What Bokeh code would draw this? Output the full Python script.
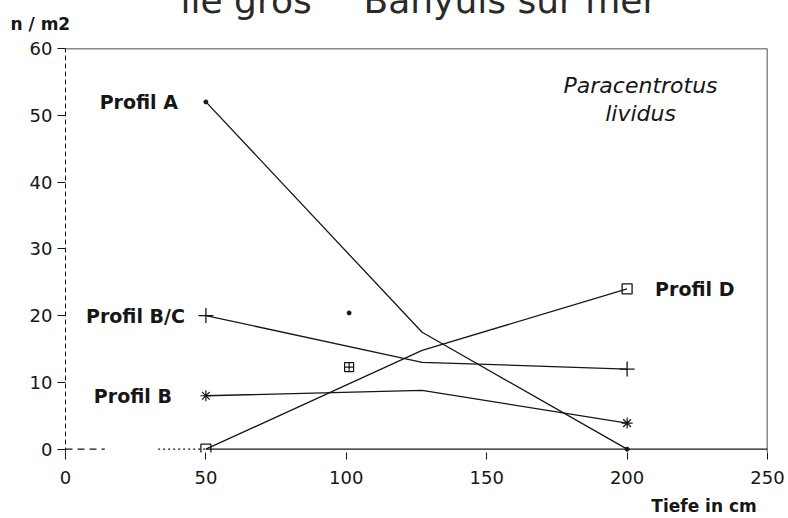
from bokeh.plotting import figure
from bokeh.models import Range1d, Span, Label, FixedTicker, Title, LinearAxis
from bokeh.core.properties import value
from bokeh.embed import file_html
from bokeh.resources import INLINE

# ---- data ----
depth = [50, 127, 200]               # Tiefe in cm
profil_a = [52, 17.5, 0]
profil_bc = [20, 13, 12]
profil_b = [8, 8.8, 3.9]
profil_d = [0, 14.8, 24]
stray_x = [101, 101]
stray_y = [20.4, 12.3]
x_ticks = [0, 50, 100, 150, 200, 250]
y_ticks = [0, 10, 20, 30, 40, 50, 60]
heading_parts = ["ile gros", "Banyuls sur mer"]

FONT = "DejaVu Sans"
INK = "#161616"

p = figure(width=788, height=518, x_range=Range1d(0, 250), y_range=Range1d(-0.5, 60),
           output_backend="svg", toolbar_location=None,
           min_border_left=65, min_border_right=21, min_border_top=48, min_border_bottom=66)
p.grid.visible = False
p.outline_line_color = None
p.background_fill_color = "white"
p.border_fill_color = "white"

# x axis
xa = p.xaxis[0]
xa.ticker = FixedTicker(ticks=x_ticks)
xa.axis_line_color = None
xa.major_tick_out = 7
xa.major_tick_in = 0
xa.major_tick_line_color = INK
xa.minor_tick_line_color = None
xa.major_label_standoff = 11
xa.major_label_text_font = FONT
xa.major_label_text_font_size = "18px"
xa.major_label_text_color = INK

# x axis title "Tiefe in cm" as a second, line-less axis
x_title_at = 227.4
xt = LinearAxis(ticker=FixedTicker(ticks=[x_title_at]),
                major_label_overrides={x_title_at: "Tiefe in cm"},
                axis_line_color=None, major_tick_line_color=None, minor_tick_line_color=None,
                major_tick_out=0, major_tick_in=0, minor_tick_out=0, minor_tick_in=0,
                major_label_standoff=9, major_label_text_font=FONT,
                major_label_text_font_size="17px", major_label_text_font_style="bold",
                major_label_text_color=INK)
p.add_layout(xt, "below")

# y axis (dashed line)
ya = p.yaxis[0]
ya.ticker = FixedTicker(ticks=y_ticks)
ya.axis_line_dash = "5 3"
ya.axis_line_color = INK
ya.major_tick_out = 8
ya.major_tick_in = 0
ya.major_tick_line_color = INK
ya.minor_tick_line_color = None
ya.major_label_standoff = 5
ya.major_label_text_font = FONT
ya.major_label_text_font_size = "18px"
ya.major_label_text_color = INK

# y axis title "n / m2" at the top left
p.add_layout(Title(text="n / m2", align="left", offset=-55, vertical_align="top",
                   standoff=25, text_font=FONT, text_font_size="17px",
                   text_font_style="bold", text_color=INK), "above")

# heading, cut off by the top edge as in the scan
for txt, off in zip(heading_parts, (115, 298)):
    p.add_layout(Title(text=txt, align="left", offset=off, vertical_align="top",
                       standoff=-43, text_font=FONT, text_font_size="36px",
                       text_font_style="normal", text_color="#2a2a2a"), "above")

# frame: top and right
p.add_layout(Span(location=60, dimension="width", line_color=INK, line_width=1.5))
p.add_layout(Span(location=250, dimension="height", line_color=INK, line_width=1.5))

# baseline at n = 0
p.line([0, 14], [0, 0], line_color=INK, line_width=1.2, line_dash="7 5")
p.line([33, 50], [0, 0], line_color=INK, line_width=1.2, line_dash="2 3")
p.line([50, 250], [0, 0], line_color=INK, line_width=1.3)

# series lines
for ys in (profil_a, profil_bc, profil_b, profil_d):
    p.line(depth, ys, line_color=INK, line_width=1.3)

# markers at the measured ends
ends = [depth[0], depth[-1]]
p.scatter(ends, [profil_a[0], profil_a[-1]], marker="circle", size=4, color=INK)
p.scatter(ends, [profil_bc[0], profil_bc[-1]], marker="cross", size=15,
          line_color=INK, line_width=1.3)
p.scatter(ends, [profil_b[0], profil_b[-1]], marker="asterisk", size=11,
          line_color=INK, line_width=1.2)
p.scatter(ends, [profil_d[0], profil_d[-1]], marker="square", size=10,
          line_color=INK, line_width=1.3, fill_color=None)
p.scatter(stray_x[:1], stray_y[:1], marker="circle", size=4, color=INK)
p.scatter(stray_x[1:], stray_y[1:], marker="square_cross", size=9,
          line_color=INK, line_width=1.2, fill_color=None)

# series labels
lab = dict(text_font=value(FONT), text_font_size="19px", text_font_style="bold",
           text_color=INK, text_baseline="middle")
p.text([depth[0]], [profil_a[0]], text=["Profil A"], x_offset=-28, text_align="right", **lab)
p.text([depth[0]], [profil_bc[0]], text=["Profil B/C"], x_offset=-21, text_align="right", **lab)
p.text([depth[0]], [profil_b[0]], text=["Profil B"], x_offset=-34, text_align="right", **lab)
p.text([depth[-1]], [profil_d[-1]], text=["Profil D"], x_offset=28, text_align="left", **lab)

# species name
for txt, yy in (("Paracentrotus", 54.5), ("lividus", 50.3)):
    p.add_layout(Label(x=204.8, y=yy, text=txt, text_font=FONT, text_font_size="22px",
                       text_font_style="italic", text_color=INK,
                       text_align="center", text_baseline="middle"))

open("out.html", "w").write(file_html(p, INLINE))
